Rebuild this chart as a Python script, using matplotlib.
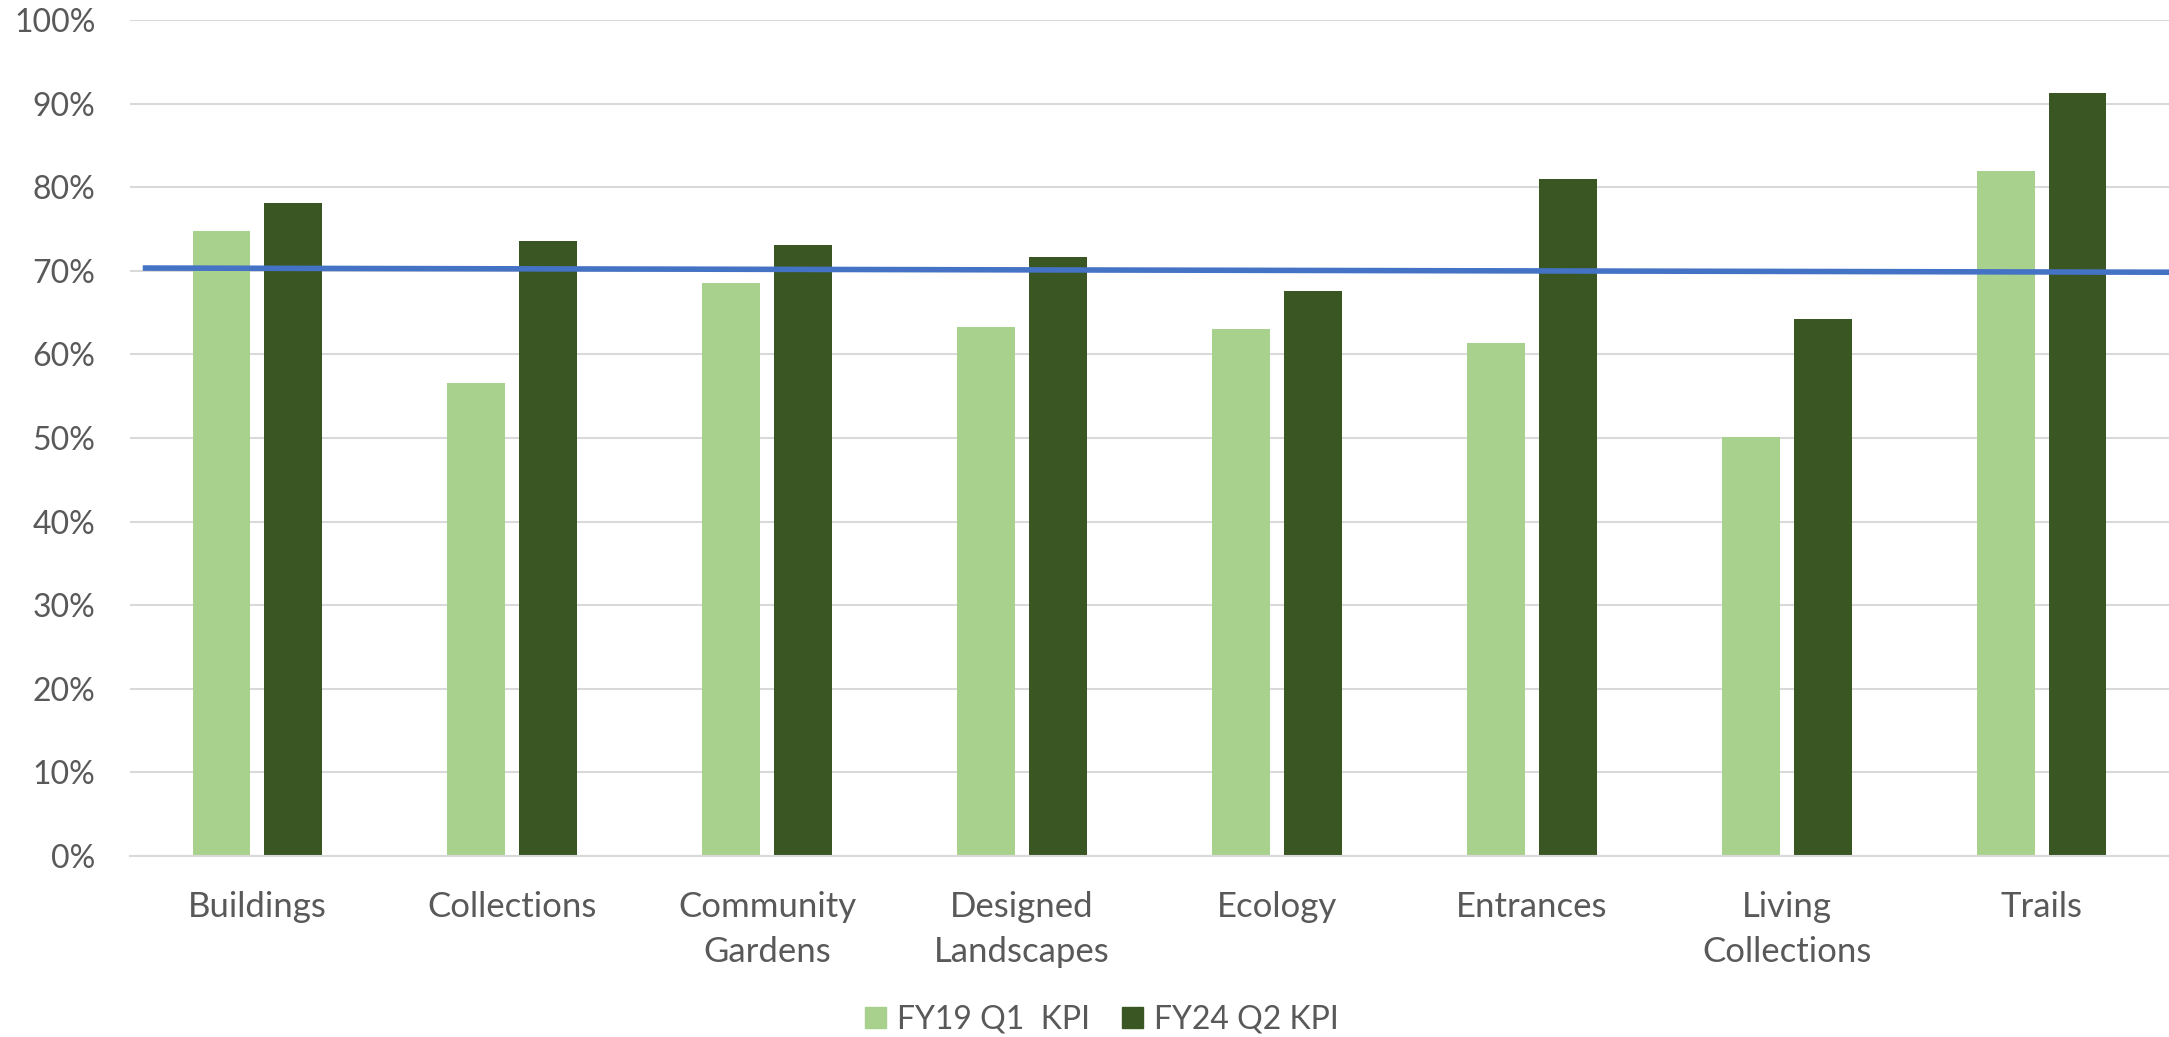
import matplotlib
matplotlib.use("Agg")
import matplotlib.pyplot as plt
import numpy as np
from matplotlib.patches import Patch

categories = ["Buildings", "Collections", "Community\nGardens", "Designed\nLandscapes",
              "Ecology", "Entrances", "Living\nCollections", "Trails"]
fy19_q1 = [74.8, 56.6, 68.5, 63.3, 63.0, 61.4, 50.1, 81.9]
fy24_q2 = [78.1, 73.6, 73.1, 71.7, 67.6, 81.0, 64.2, 91.3]
series_names = ["FY19 Q1  KPI", "FY24 Q2 KPI"]
# trend line endpoints (category position, percent)
trend_x = [-0.45, 7.5]
trend_y = [70.33, 69.83]
yticks = [0, 10, 20, 30, 40, 50, 60, 70, 80, 90, 100]

light = "#A9D18E"
dark = "#3A5723"
blue = "#4472C4"
text_color = "#595959"
grid_color = "#D9D9D9"

plt.rcParams["font.family"] = ["Lato", "DejaVu Sans"]

fig = plt.figure(figsize=(21.69, 10.37), dpi=100)
ax = fig.add_axes([130 / 2169, 1 - 856 / 1037, 1 - 130 / 2169, (856 - 20) / 1037])

x = np.arange(len(categories))
width = 0.2275
offset = 0.141
ax.bar(x - offset, fy19_q1, width, color=light, zorder=2)
ax.bar(x + offset, fy24_q2, width, color=dark, zorder=2)
ax.plot(trend_x, trend_y, color=blue, lw=4.0, zorder=3, solid_capstyle="butt")

ax.set_xlim(-0.5, len(categories) - 0.5)
ax.set_ylim(0, 100)
ax.set_yticks(yticks)
ax.set_yticklabels([f"{t}%" for t in yticks])
ax.set_xticks(x)
ax.set_xticklabels(categories, linespacing=1.5)

ax.yaxis.grid(True, color=grid_color, lw=1.5, zorder=0)
ax.set_axisbelow(True)
for s in ["top", "right", "left"]:
    ax.spines[s].set_visible(False)
ax.spines["bottom"].set_color(grid_color)
ax.spines["bottom"].set_linewidth(1.5)
ax.tick_params(axis="both", length=0, colors=text_color)
ax.tick_params(axis="y", pad=25, labelsize=23)
ax.tick_params(axis="x", pad=25, labelsize=25)

handles = [Patch(color=light), Patch(color=dark)]
fig.legend(handles, series_names, loc="center", bbox_to_anchor=(0.508, 0.0164),
           ncol=2, frameon=False, fontsize=23, labelcolor=text_color,
           handlelength=0.65, handleheight=0.65, handletextpad=0.35,
           columnspacing=1.0, borderpad=0)

fig.savefig("out.png", dpi=100)
